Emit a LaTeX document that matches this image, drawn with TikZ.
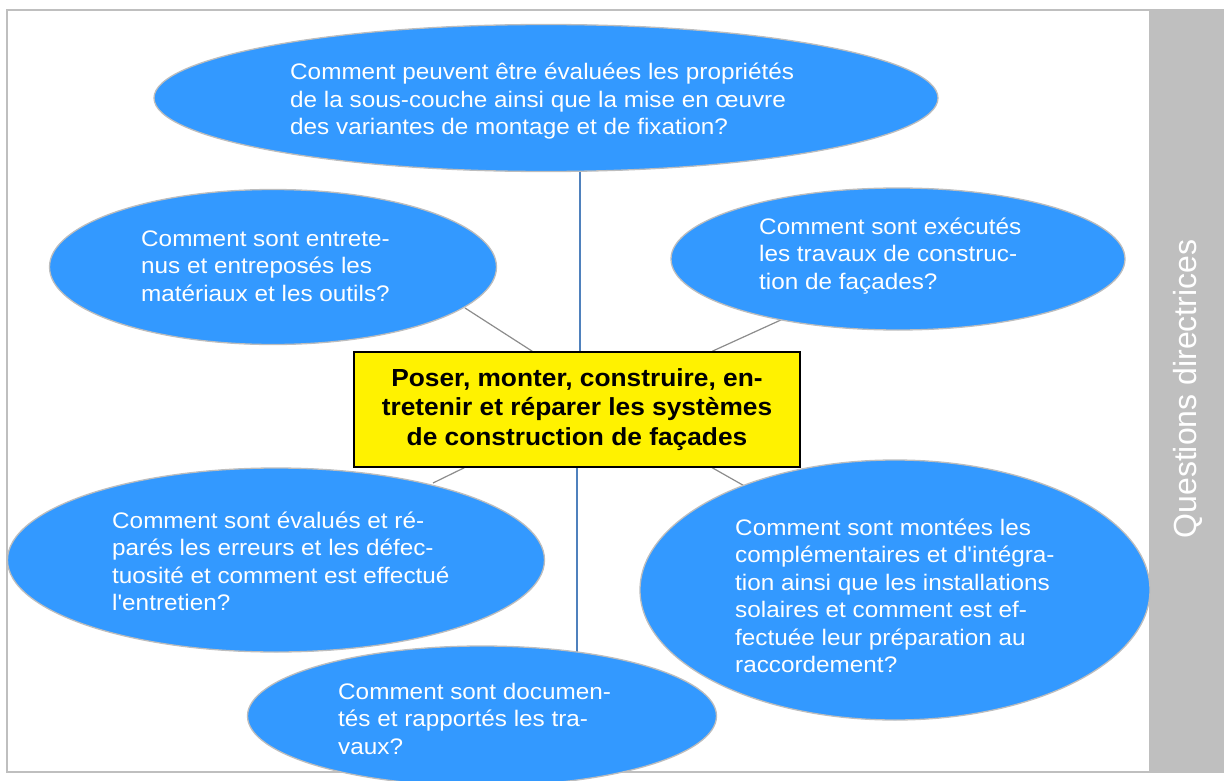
\documentclass[tikz,border=0pt]{standalone}
\usepackage{fontspec}
\setmainfont{Liberation Sans}
\newfontfamily\qfont[FakeStretch=1.08]{Liberation Sans}
\newfontfamily\bfont[FakeStretch=1.065]{Liberation Sans Bold}
\usetikzlibrary{shapes.geometric,backgrounds,calc}
\definecolor{qblue}{HTML}{3399FF}
\definecolor{ellgray}{HTML}{BDBDBD}
\definecolor{framegray}{HTML}{BFBFBF}
\definecolor{linegray}{HTML}{8C8C8C}
\definecolor{lineblue}{HTML}{4F81BD}
\begin{document}
\begin{tikzpicture}[x=1pt,y=-1pt,
  q/.style={ellipse, draw=ellgray, line width=1.3pt, fill=qblue, inner sep=0pt},
  qt/.style={anchor=base west, align=left, text=white, inner sep=0pt,
    font=\qfont\fontsize{22.5}{27.5}\selectfont},
  gline/.style={draw=linegray, line width=1.2pt},
  bline/.style={draw=lineblue, line width=1.2pt}]
\useasboundingbox (0,0) rectangle (1224,781);
\clip (0,0) rectangle (1224,781);
% frame and side bar
\node[draw=framegray, line width=2pt, minimum width=1216pt, minimum height=762pt, inner sep=0pt, anchor=north west] (frame) at (6,9) {};
\node[fill=framegray, minimum width=73pt, minimum height=762pt, inner sep=0pt, anchor=north west] (bar) at (1149,9) {};
\node[rotate=90, text=white, font=\fontsize{32}{36}\selectfont] (bartext) at (1188,389) {Questions directrices};
% ellipses
\node[q, minimum width=784pt, minimum height=147pt] (e1) at (546,98) {};
\node[q, minimum width=447pt, minimum height=155pt] (e2) at (273,267) {};
\node[q, minimum width=454pt, minimum height=142pt] (e3) at (898,259) {};
\node[q, minimum width=537pt, minimum height=184pt] (e4) at (276,560) {};
\node[q, minimum width=469pt, minimum height=140pt] (e5) at (482,716) {};
\node[q, minimum width=510pt, minimum height=260pt] (e6) at (895,590) {};
% central box
\node[draw=black, line width=1.5pt, fill=yellow, minimum width=446pt, minimum height=115pt, inner sep=0pt, align=center,
  font=\bfont\fontsize{24.7}{29.5}\selectfont] (box) at (577,409.5)
  {Poser, monter, construire, en-\\tretenir et réparer les systèmes\\de construction de façades};
% connectors
\coordinate (c2) at (465,308);
\coordinate (c3) at (783,319);
\coordinate (c4) at (433,483);
\coordinate (c6) at (748,488);
\begin{pgfonlayer}{background}
\draw[bline] ($(box.north)+(3,0)$) -- ($(e1.south)+(34,0)$);
\draw[bline] (box.south) -- ($(box.south)+(0,184)$);
\draw[gline] ($(box.north west)+(179,0)$) -- (c2);
\draw[gline] ($(box.north west)+(359,0)$) -- (c3);
\draw[gline] ($(box.south west)+(111,0)$) -- (c4);
\draw[gline] ($(box.south west)+(359,0)$) -- (c6);
\end{pgfonlayer}
% texts (anchored at the baseline of the last line)
\node[qt] (t1) at (290,135) {Comment peuvent être évaluées les propriétés\\de la sous-couche ainsi que la mise en œuvre\\des variantes de montage et de fixation?};
\node[qt] (t2) at (141,301) {Comment sont entrete-\\nus et entreposés les\\matériaux et les outils?};
\node[qt] (t3) at (759,289) {Comment sont exécutés\\les travaux de construc-\\tion de façades?};
\node[qt] (t4) at (112,610.5) {Comment sont évalués et ré-\\parés les erreurs et les défec-\\tuosité et comment est effectué\\l'entretien?};
\node[qt] (t5) at (338,754) {Comment sont documen-\\tés et rapportés les tra-\\vaux?};
\node[qt] (t6) at (735,672.5) {Comment sont montées les\\complémentaires et d'intégra-\\tion ainsi que les installations\\solaires et comment est ef-\\fectuée leur préparation au\\raccordement?};
\end{tikzpicture}
\end{document}
